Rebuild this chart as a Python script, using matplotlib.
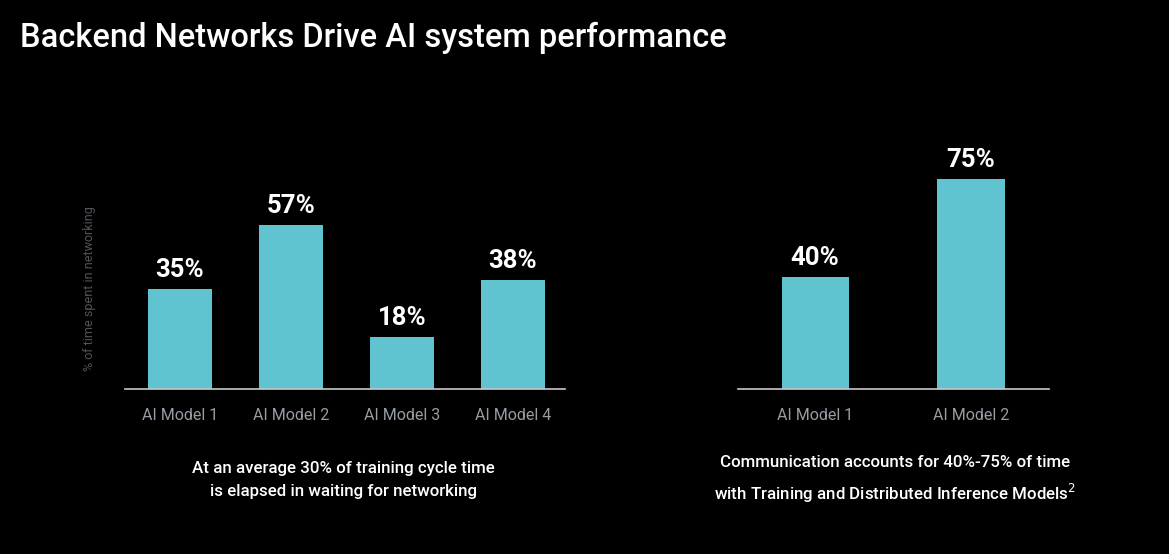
import matplotlib
matplotlib.use("Agg")
import matplotlib.pyplot as plt
from matplotlib import font_manager

left_categories = ["AI Model 1", "AI Model 2", "AI Model 3", "AI Model 4"]
left_values = [35, 57, 18, 38]
right_categories = ["AI Model 1", "AI Model 2"]
right_values = [40, 75]

title = "Backend Networks Drive AI system performance"
ylabel = "% of time spent in networking"
left_caption = "At an average 30% of training cycle time\nis elapsed in waiting for networking"
right_caption = "Communication accounts for 40%-75% of time\nwith Training and Distributed Inference Models$^{2}$"

names = {f.name for f in font_manager.fontManager.ttflist}
main = "Roboto" if "Roboto" in names else "DejaVu Sans"

BAR = "#5fc4d0"
BG = "#000000"

W, H = 1169, 554
fig = plt.figure(figsize=(W / 100, H / 100), dpi=100, facecolor=BG)

def px_axes(x0, x1, y_base, y_top):
    return fig.add_axes([x0 / W, (H - y_base) / H, (x1 - x0) / W, (y_base - y_top) / H])

def style(ax, cats, vals, width, xlim, ymax):
    ax.set_facecolor(BG)
    x = list(range(len(cats)))
    bars = ax.bar(x, vals, width=width, color=BAR, zorder=2)
    ax.set_xlim(*xlim)
    ax.set_ylim(0, ymax)
    for s in ["top", "right", "left"]:
        ax.spines[s].set_visible(False)
    ax.spines["bottom"].set_color("#c8c8c8")
    ax.spines["bottom"].set_linewidth(1.2)
    ax.set_yticks([])
    ax.set_xticks(x)
    ax.set_xticklabels(cats, color="#979da5", fontsize=11.5, family=main)
    ax.tick_params(axis="x", length=0, pad=14)
    for b, v in zip(bars, vals):
        ax.annotate(f"{v}%", (b.get_x() + b.get_width() / 2, v), xytext=(0, 5),
                    textcoords="offset points", ha="center", va="bottom",
                    color="white", fontsize=18.5, fontweight="bold", family=main)
    return ax

axL = px_axes(125, 565, 389, 102)
style(axL, left_categories, left_values, 0.577, (-0.495, 3.47), 100)
axL.set_ylabel(ylabel, color="#50555c", fontsize=9, family=main)
axL.yaxis.set_label_coords(-0.066, 0.35)

axR = px_axes(738, 1049, 389, 109)
style(axR, right_categories, right_values, 0.43, (-0.494, 1.5), 100)

fig.text(20 / W, 1 - 38 / H, title, color="white", fontsize=23.5, fontweight="medium",
         family=main, ha="left", va="center")

fig.text(343 / W, 1 - 480 / H, left_caption, color="white", fontsize=12.2,
         fontweight="medium", family=main, ha="center", va="center", linespacing=1.65)
fig.text(895 / W, 1 - 480 / H, right_caption, color="white", fontsize=12.2,
         fontweight="medium", family=main, ha="center", va="center", linespacing=1.65)

fig.savefig("out.png", dpi=100, facecolor=BG)
